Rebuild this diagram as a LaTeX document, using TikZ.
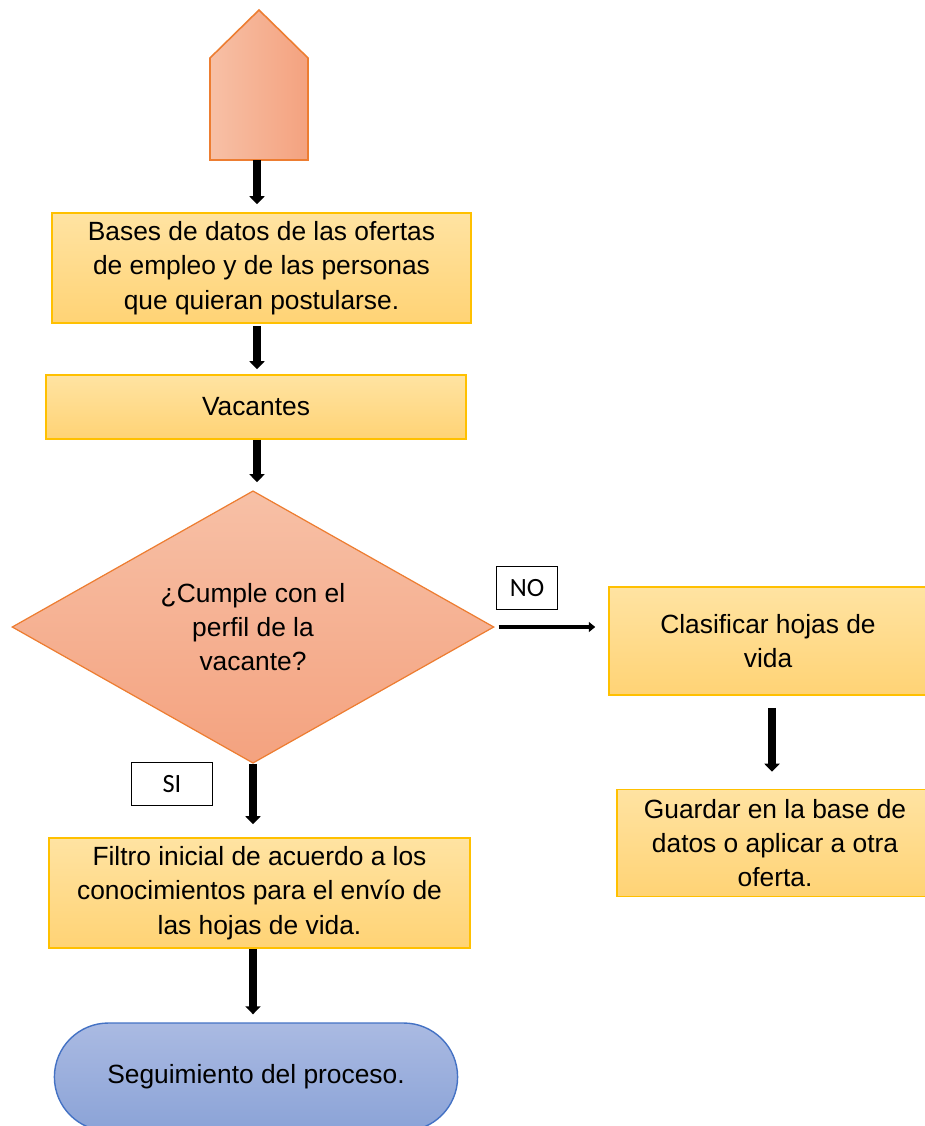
\documentclass[tikz,border=0pt]{standalone}
\usepackage{fontspec}
\setmainfont{Liberation Sans}
\newfontfamily\etiqfont{Carlito}
\usetikzlibrary{shapes.geometric,shapes.misc,arrows.meta}
\definecolor{cajaborde}{HTML}{FFC000}
\definecolor{cajaarriba}{HTML}{FFE3A2}
\definecolor{cajaabajo}{HTML}{FFD375}
\definecolor{rombborde}{HTML}{ED7D31}
\definecolor{rombarriba}{HTML}{F7C0A6}
\definecolor{rombabajo}{HTML}{F4A27F}
\definecolor{finborde}{HTML}{4472C4}
\definecolor{finarriba}{HTML}{AABAE2}
\definecolor{finabajo}{HTML}{8BA3D7}
\begin{document}
\begin{tikzpicture}[x=0.02cm, y=-0.02cm,
  texto/.style={align=center, font=\fontsize{15}{19.5}\selectfont},
  proceso/.style={texto, rectangle, draw=cajaborde, line width=0.9pt, top color=cajaarriba, bottom color=cajaabajo, minimum height=2.2cm},
  decision/.style={texto, diamond, draw=rombborde, line width=0.7pt, top color=rombarriba, bottom color=rombabajo, inner sep=0pt},
  terminal/.style={texto, rounded rectangle, draw=finborde, line width=0.8pt, top color=finarriba, bottom color=finabajo},
  etiqueta/.style={draw, line width=0.8pt, fill=white, font=\etiqfont\fontsize{15}{18}\selectfont, minimum height=0.85cm},
  flecha/.style={line width=4pt, -{Triangle[width=0.3cm,length=0.16cm]}, shorten >=0.16cm},
  flechafina/.style={line width=2.3pt, -{Triangle[width=0.2cm,length=0.13cm]}, shorten <=0.08cm, shorten >=0.26cm}]
\useasboundingbox (0,0) rectangle (925,1126);

% inicio
\draw[draw=rombborde, line width=0.9pt, left color=rombarriba, right color=rombabajo]
  (210,160) -- (210,58) -- (259,10) -- (308,58) -- (308,160) -- cycle;
\coordinate (ini) at (257,160);

\node[proceso, minimum width=8.38cm] (bases) at (261.5,268) {Bases de datos de las ofertas\\de empleo y de las personas\\que quieran postularse.};
\node[proceso, minimum width=8.4cm, minimum height=1.28cm] (vacantes) at (256,407) {Vacantes};
\node[decision, minimum width=9.64cm, minimum height=5.28cm] (cumple) at (253,627) {¿Cumple con el\\perfil de la\\vacante?};
\node[proceso, minimum width=6.36cm, minimum height=2.16cm] (clasificar) at (768,641) {Clasificar hojas de\\vida};
\node[proceso, minimum width=6.32cm, minimum height=2.14cm] (guardar) at (775,843) {Guardar en la base de\\datos o aplicar a otra\\oferta.};
\node[proceso, minimum width=8.42cm] (filtro) at (259.5,893) {Filtro inicial de acuerdo a los\\conocimientos para el envío de\\las hojas de vida.};
\node[terminal, minimum width=8.3cm, minimum height=2.16cm] (seguimiento) at (256,1077) {Seguimiento del proceso.};

\node[etiqueta, minimum width=1.22cm] (no) at (527,588) {NO};
\node[etiqueta, minimum width=1.62cm] (si) at (172,784) {SI};

\draw[flecha] (ini) -- (bases.north -| ini);
\draw[flecha, shorten <=0.04cm, shorten >=0.1cm] (bases.south -| ini) -- (vacantes.north -| ini);
\draw[flecha] (vacantes.south -| ini) -- (cumple.north -| ini);
\draw[flecha, shorten >=0.26cm] (cumple.south) -- (cumple.south |- filtro.north);
\draw[flecha] (filtro.south -| cumple.south) -- (seguimiento.north -| cumple.south);
\draw[flechafina] (cumple.east) -- (clasificar.west |- cumple.east);
\draw[flecha, shorten <=0.24cm, shorten >=0.34cm] (clasificar.south -| 772,0) -- (guardar.north -| 772,0);
\end{tikzpicture}
\end{document}
